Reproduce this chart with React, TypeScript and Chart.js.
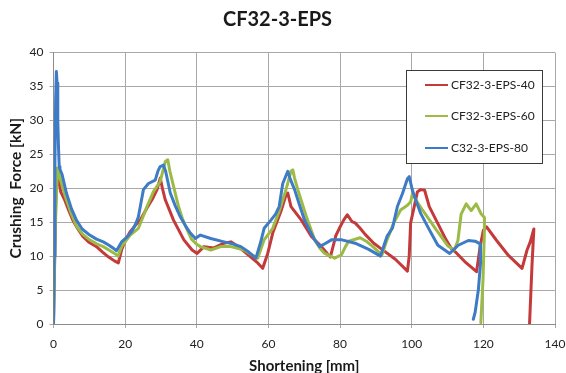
import React, { useEffect, useRef } from "react";
import { Chart, registerables } from "chart.js";

Chart.register(...registerables);

const chartTitle = "CF32-3-EPS";
const xAxisTitle = "Shortening [mm]";
const yAxisTitle = "Crushing  Force [kN]";
const seriesNames = ["CF32-3-EPS-40", "CF32-3-EPS-60", "C32-3-EPS-80"];

const redX = [0, 0.6, 1.2, 1.7, 2.0, 3.1, 4.2, 5.4, 6.8, 8.2, 10.0, 12.0, 13.7, 15.3, 17.0, 18.1, 19.0, 20.2, 21.4, 22.8, 24.2, 26.1, 27.5, 28.9, 29.8, 30.4, 31.2, 33.5, 36.4, 38.7, 40.1, 42.0, 44.8, 47.6, 49.5, 51.5, 53.2, 57.0, 58.4, 59.8, 61.2, 63.5, 64.9, 65.4, 66.3, 69.2, 72.0, 74.8, 76.7, 77.3, 78.8, 79.8, 81.0, 82.0, 83.3, 84.2, 85.6, 87.0, 89.4, 91.7, 95.5, 98.8, 99.3, 99.7, 100.7, 101.6, 102.5, 103.6, 104.9, 107.2, 109.6, 111.1, 112.4, 114.8, 118.1, 119.1, 120.0, 120.9, 123.7, 127.0, 130.8, 132.2, 133.1, 134.1, 133.6, 132.9];
const redY = [0, 18, 22.5, 20.7, 19.5, 18.3, 16.8, 15.3, 14.0, 12.9, 12.0, 11.4, 10.6, 9.9, 9.3, 9.0, 10.9, 12.5, 13.6, 14.5, 15.3, 17.1, 18.3, 19.8, 21.5, 20.0, 18.3, 15.3, 12.4, 10.9, 10.4, 11.4, 11.2, 11.9, 12.1, 11.4, 10.7, 9.0, 8.2, 10.4, 13.4, 16.6, 19.0, 19.3, 17.3, 15.3, 12.9, 11.4, 10.2, 9.9, 13.0, 14.1, 15.3, 16.1, 15.1, 14.9, 14.1, 13.2, 11.9, 11.0, 9.5, 7.8, 10.0, 14.9, 17.3, 19.5, 19.8, 19.7, 17.3, 14.9, 12.4, 11.1, 10.5, 9.2, 7.7, 11.4, 13.8, 14.3, 12.3, 10.1, 8.2, 10.9, 12.1, 14.0, 8.9, 0.1];

const greenX = [0, 0.5, 1.1, 1.7, 2.5, 3.6, 5.0, 6.4, 8.2, 10.1, 12.0, 13.9, 15.8, 17.6, 18.0, 19.0, 21.4, 23.7, 25.0, 26.1, 27.9, 29.8, 30.5, 31.2, 31.9, 32.5, 33.5, 34.9, 36.0, 37.3, 38.5, 40.1, 41.0, 43.9, 46.7, 49.5, 53.2, 55.0, 57.0, 58.8, 61.2, 63.0, 64.9, 66.3, 66.8, 67.3, 68.2, 70.6, 72.9, 74.3, 75.7, 78.5, 80.4, 81.5, 82.4, 85.6, 87.3, 88.9, 91.7, 93.1, 95.0, 96.9, 98.8, 99.7, 100.2, 101.5, 103.0, 105.0, 106.8, 110.1, 111.9, 112.9, 113.8, 115.2, 116.6, 118.0, 119.4, 120.3, 120.3, 119.9, 119.3];
const greenY = [0, 14, 23, 21.7, 20.2, 18.3, 16.2, 14.4, 13.2, 12.4, 11.8, 11.4, 10.8, 10.2, 10.0, 11.4, 13.1, 14.1, 15.8, 17.3, 19.5, 21.0, 22.5, 23.9, 24.2, 22.5, 20.3, 17.3, 15.5, 13.9, 12.5, 11.7, 11.4, 10.9, 11.4, 11.4, 10.9, 10.3, 9.7, 12.4, 14.1, 16.6, 19.8, 22.5, 22.7, 21.5, 19.8, 15.8, 12.4, 11.2, 10.4, 9.7, 10.2, 11.4, 12.2, 12.7, 12.2, 11.5, 10.2, 12.4, 14.9, 16.8, 17.5, 18.0, 19.2, 18.0, 16.8, 15.3, 13.9, 11.5, 10.9, 12.3, 16.2, 17.7, 16.7, 17.7, 16.2, 15.7, 13.8, 6.5, 0.2];

const blueX = [0, 0.2, 0.4, 0.6, 0.8, 1.0, 1.2, 1.4, 1.6, 1.8, 2.4, 3.6, 5.0, 6.4, 8.0, 10.1, 12.0, 13.9, 15.5, 17.1, 17.6, 19.0, 20.5, 21.8, 23.0, 23.7, 24.4, 25.1, 26.5, 28.4, 29.2, 29.8, 30.7, 31.3, 32.6, 34.0, 35.4, 36.8, 38.2, 39.6, 41.0, 43.9, 47.6, 50.0, 52.3, 54.5, 56.5, 57.8, 58.8, 60.7, 62.0, 63.0, 64.0, 65.4, 66.0, 67.3, 68.7, 70.1, 71.5, 72.9, 74.3, 76.0, 77.6, 80.5, 84.2, 88.0, 91.3, 92.2, 93.1, 94.6, 96.0, 97.4, 98.8, 99.3, 100.2, 101.3, 102.5, 104.9, 107.3, 110.6, 113.0, 115.8, 117.7, 119.1, 119.2, 118.6, 117.7, 117.2];
const blueY = [0, 10, 24, 33, 37.2, 35.5, 30, 26, 23.2, 22.8, 22.0, 19.3, 17.0, 15.3, 14.0, 13.1, 12.5, 12.1, 11.6, 11.0, 10.8, 12.1, 12.8, 13.6, 14.8, 15.8, 17.8, 19.8, 20.7, 21.2, 22.6, 23.2, 23.4, 22.5, 19.3, 17.4, 15.8, 14.5, 13.4, 12.6, 13.1, 12.6, 12.1, 11.8, 11.4, 10.6, 9.7, 12.0, 14.1, 15.3, 16.2, 17.3, 20.7, 22.5, 21.5, 19.8, 17.5, 15.3, 13.8, 12.4, 11.4, 11.9, 12.4, 12.4, 11.9, 11.0, 10.0, 11.5, 12.9, 14.1, 17.3, 19.2, 21.4, 21.7, 19.7, 18.0, 16.3, 13.9, 11.6, 10.4, 11.6, 12.3, 12.2, 11.8, 8.9, 5.0, 1.7, 0.7];

const seriesColors = ["#C43A3A", "#9BBB45", "#3E7BC6"];
const FONT = "Lato, 'Open Sans', sans-serif";

const toPoints = (xs: number[], ys: number[]) => xs.map((x, i) => ({ x, y: ys[i] }));

const legendBoxPlugin = {
  id: "legendBox",
  afterDraw(chart: any) {
    const ctx = chart.ctx;
    const bx = 406.5, by = 70.5, bw = 136, bh = 93;
    ctx.save();
    ctx.fillStyle = "#ffffff";
    ctx.fillRect(bx, by, bw, bh);
    ctx.strokeStyle = "#3a3a3a";
    ctx.lineWidth = 1;
    ctx.strokeRect(bx, by, bw, bh);
    const rows = [85, 116, 148];
    seriesNames.forEach((name, i) => {
      ctx.strokeStyle = seriesColors[i];
      ctx.lineWidth = 2;
      ctx.beginPath();
      ctx.moveTo(425, rows[i]);
      ctx.lineTo(448, rows[i]);
      ctx.stroke();
      ctx.fillStyle = "#222222";
      ctx.font = `12px ${FONT}`;
      ctx.textBaseline = "middle";
      ctx.textAlign = "left";
      ctx.fillText(name, 451, rows[i]);
    });
    ctx.restore();
  },
};

export default function App() {
  const canvasRef = useRef<HTMLCanvasElement | null>(null);

  useEffect(() => {
    if (!canvasRef.current) return;
    const datasets = [
      { label: seriesNames[0], data: toPoints(redX, redY), order: 3 },
      { label: seriesNames[1], data: toPoints(greenX, greenY), order: 2 },
      { label: seriesNames[2], data: toPoints(blueX, blueY), order: 1 },
    ].map((d, i) => ({
      ...d,
      showLine: true,
      borderColor: seriesColors[i],
      backgroundColor: seriesColors[i],
      borderWidth: 3,
      borderJoinStyle: "round",
      borderCapStyle: "round",
      pointRadius: 0,
      tension: 0,
      fill: false,
    }));

    const chart = new Chart(canvasRef.current, {
      type: "scatter",
      data: { datasets },
      options: {
        responsive: false,
        animation: false,
        layout: { padding: { left: 0, right: 11, top: 0, bottom: 0 } },
        plugins: {
          legend: { display: false },
          tooltip: { enabled: false },
          title: {
            display: true,
            text: chartTitle,
            color: "#1a1a1a",
            font: { family: FONT, size: 20, weight: "bold" },
            padding: { top: 8, bottom: 20.5 },
          },
        },
        scales: {
          x: {
            type: "linear",
            min: 0,
            max: 140,
            ticks: { stepSize: 20, color: "#222", font: { family: FONT, size: 12 }, padding: 9 },
            grid: { color: "#a8a8a8", tickLength: 4 },
            border: { color: "#8c8c8c" },
            title: {
              display: true,
              text: xAxisTitle,
              color: "#1a1a1a",
              font: { family: FONT, size: 15, weight: "bold" },
              padding: { top: 0, bottom: -2 },
            },
            afterFit: (scale: any) => {
              scale.height = 49;
              scale.paddingLeft = 0;
              scale.paddingRight = 0;
            },
          },
          y: {
            min: 0,
            max: 40,
            ticks: { stepSize: 5, color: "#222", font: { family: FONT, size: 12 }, padding: 6 },
            grid: { color: "#a8a8a8", tickLength: 4 },
            border: { color: "#8c8c8c" },
            title: {
              display: true,
              text: yAxisTitle,
              color: "#1a1a1a",
              font: { family: FONT, size: 15.5, weight: "bold" },
              padding: { top: 7, bottom: 0 },
            },
            afterFit: (scale: any) => {
              scale.width = 53.5;
              scale.paddingTop = 0;
              scale.paddingBottom = 0;
            },
          },
        },
      },
      plugins: [legendBoxPlugin],
    } as any);

    return () => chart.destroy();
  }, []);

  return (
    <div style={{ position: "fixed", left: 0, top: 0, width: 566, height: 373, background: "#fff" }}>
      <canvas ref={canvasRef} width={566} height={373} style={{ display: "block" }} />
    </div>
  );
}
